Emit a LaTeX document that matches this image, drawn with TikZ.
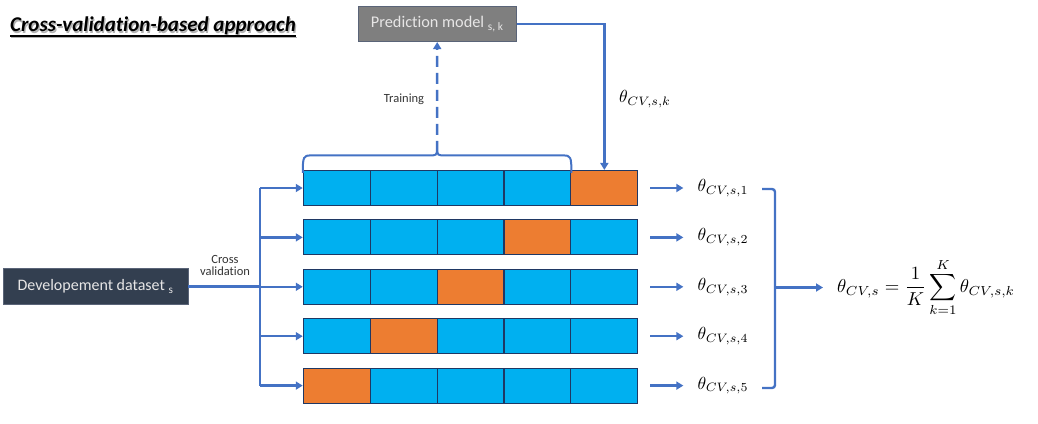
\documentclass[tikz,border=0pt]{standalone}
\usepackage{graphicx}
\usepackage{fontspec}
\setmainfont{Carlito}[Ligatures=NoCommon]
\usetikzlibrary{arrows.meta,calc}
\definecolor{linkblue}{HTML}{4472C4}
\definecolor{cellblue}{HTML}{00B0F0}
\definecolor{cellorange}{HTML}{ED7D31}
\definecolor{cellline}{HTML}{1F3864}
\definecolor{slate}{HTML}{333F50}
\definecolor{modelgray}{HTML}{7F7F7F}
\definecolor{modeledge}{HTML}{5A6478}
\definecolor{paletext}{HTML}{E7E6E6}
\newcommand{\bigmath}[2][1.75]{\scalebox{#1}{$#2$}}
\begin{document}
\begin{tikzpicture}[x=1pt,y=-1pt,
  link/.style={draw=linkblue,line width=2.4pt},
  linkarrow/.style={link,-{Triangle[width=8pt,length=7pt]}},
  cell/.style={draw=cellline,line width=1.1pt,minimum width=66.9pt,minimum height=35pt,inner sep=0pt},
  darkbox/.style={fill=slate,draw=modeledge,line width=0.8pt,text=paletext,inner sep=0pt},
  graybox/.style={fill=modelgray,draw=modeledge,line width=0.8pt,text=paletext,inner sep=0pt},
  smalllabel/.style={font=\fontsize{12.5}{14}\selectfont,text=black!80,inner sep=0pt},
  mathlabel/.style={inner sep=0pt}]
\useasboundingbox (0,0) rectangle (1038,423);

% title with soft shadow and underline
\node[anchor=base west,inner sep=0pt,text=black!30,font=\fontsize{21}{24}\selectfont\bfseries\itshape] at (11.2,33) {Cross-validation-based approach};
\node[anchor=base west,inner sep=0pt,font=\fontsize{21}{24}\selectfont\bfseries\itshape] (title) at (10,31.8) {Cross-validation-based approach};
\draw[line width=1.3pt,black!30] ([shift={(1.2pt,-5.4pt)}]title.base west) -- ([shift={(1.2pt,-5.4pt)}]title.base east);
\draw[line width=1.3pt] ([yshift=-4.2pt]title.base west) -- ([yshift=-4.2pt]title.base east);

% folds of the cross-validation
\foreach \r/\y in {1/188,2/237.4,3/286.8,4/336.2,5/385.6}{
  \foreach \c in {1,...,5}{
    \ifnum\numexpr\c+\r\relax=6 \def\fc{cellorange}\else\def\fc{cellblue}\fi
    \node[cell,fill=\fc] (c\r\c) at ({303.3+66.9*(\c-0.5)},\y) {};
  }
}

% development dataset and split into folds
\node[darkbox,minimum width=185pt,minimum height=36pt,font=\fontsize{16}{19}\selectfont] (dev) at (95.5,286.3) {Developement dataset \textsubscript{s}};
\coordinate (split) at (260,286.3);
\coordinate (trunktop) at (260,188);
\coordinate (trunkbot) at (260,385.6);
\draw[link] (dev.east) -- (split);
\draw[link] (trunktop) -- (trunkbot);
\foreach \r in {1,...,5}{
  \draw[linkarrow] (split |- c\r1.west) -- (c\r1.west);
}
\node[smalllabel,align=center] (cv) at (225,265.5) {Cross\\[-1.5pt]validation};

% prediction model, training and held-out fold
\node[graybox,minimum width=158pt,minimum height=35.5pt,font=\fontsize{16.3}{19}\selectfont] (pm) at (437.2,23.9) {Prediction model \textsubscript{s, k}};
\draw[linkarrow] (pm.east) -| (c15.north);
\node[mathlabel,anchor=west] (thk) at (619,99) {\bigmath{\theta_{CV,s,k}}};

\coordinate (bl) at (c11.north west);
\coordinate (br) at (c14.north east);
\coordinate (tip) at ($(bl)!0.5!(br)+(0,-18)$);
\draw[link,line width=2pt]
  ([yshift=-3pt]bl) .. controls ($(bl)+(0,-13.5)$) and ($(bl)+(1,-14.5)$) .. ($(bl)+(8,-14.5)$)
  -- ($(tip)+(-7,3.5)$) .. controls ($(tip)+(-1.5,3.5)$) and ($(tip)+(0,2.5)$) .. (tip)
  .. controls ($(tip)+(0,2.5)$) and ($(tip)+(1.5,3.5)$) .. ($(tip)+(7,3.5)$)
  -- ($(br)+(-8,-14.5)$) .. controls ($(br)+(-1,-14.5)$) and ($(br)+(0,-13.5)$) .. ([yshift=-3pt]br);
\draw[linkarrow,dash pattern=on 11pt off 6pt] (tip) -- (pm.south);
\node[smalllabel] (train) at (404,99) {Training};

% fold estimates
\foreach \r in {1,...,5}{
  \node[mathlabel,anchor=west] (t\r) at ($(c\r5.east)+(59,0)$) {\bigmath{\theta_{CV,s,\r}}};
  \draw[linkarrow] ([xshift=12pt]c\r5.east) -- ([xshift=-14pt]t\r.west);
}

% averaging bracket and pooled estimate
\coordinate (bt) at (775,189);
\coordinate (bb) at (775,388);
\coordinate (bm) at (775,287.5);
\draw[link,rounded corners=3pt] (762,189) -- (bt) -- (bb) -- (762,388);
\node[mathlabel,anchor=west] (eq) at (837,287.5)
  {\bigmath[1.87]{\displaystyle\theta_{CV,s}=\frac{1}{K}\sum_{k=1}^{K}\theta_{CV,s,k}}};
\draw[linkarrow] (bm) -- ([xshift=-14pt]eq.west);
\end{tikzpicture}
\end{document}
